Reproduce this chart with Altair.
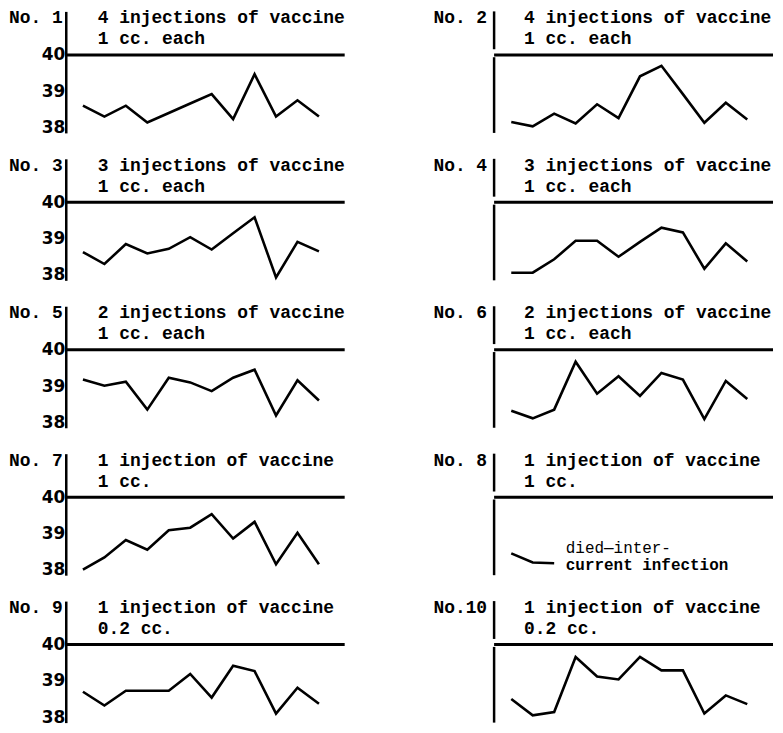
import altair as alt
import pandas as pd

# ---- data ----
case_labels = ["No. 1", "No. 2", "No. 3", "No. 4", "No. 5",
               "No. 6", "No. 7", "No. 8", "No. 9", "No.10"]
line1 = ["4 injections of vaccine", "4 injections of vaccine",
         "3 injections of vaccine", "3 injections of vaccine",
         "2 injections of vaccine", "2 injections of vaccine",
         "1 injection of vaccine", "1 injection of vaccine",
         "1 injection of vaccine", "1 injection of vaccine"]
line2 = ["1 cc. each", "1 cc. each", "1 cc. each", "1 cc. each",
         "1 cc. each", "1 cc. each", "1 cc.", "1 cc.", "0.2 cc.", "0.2 cc."]

t1 = [38.6, 38.3, 38.6, 38.14, 38.4, 38.66, 38.92, 38.23, 39.47, 38.3, 38.75, 38.3]
t2 = [38.15, 38.03, 38.38, 38.11, 38.64, 38.26, 39.41, 39.70, 38.92, 38.13, 38.68, 38.22]
t3 = [38.63, 38.30, 38.85, 38.59, 38.72, 39.04, 38.70, 39.15, 39.59, 37.93, 38.91, 38.65]
t4 = [38.06, 38.06, 38.43, 38.94, 38.94, 38.50, 38.91, 39.30, 39.17, 38.17, 38.87, 38.37]
t5 = [39.18, 39.01, 39.12, 38.35, 39.23, 39.10, 38.86, 39.23, 39.45, 38.19, 39.16, 38.60]
t6 = [38.32, 38.11, 38.35, 39.67, 38.79, 39.27, 38.73, 39.36, 39.18, 38.09, 39.14, 38.64]
t7 = [38.00, 38.34, 38.82, 38.55, 39.09, 39.16, 39.53, 38.86, 39.32, 38.15, 39.02, 38.15]
t8 = [38.45, 38.20, 38.18]
t9 = [38.70, 38.32, 38.73, 38.73, 38.73, 39.19, 38.54, 39.42, 39.27, 38.10, 38.81, 38.37]
t10 = [38.50, 38.05, 38.14, 39.66, 39.12, 39.04, 39.66, 39.29, 39.29, 38.10, 38.60, 38.36]
temps = [t1, t2, t3, t4, t5, t6, t7, t8, t9, t10]

tick_values = [38, 39, 40]
ref_value = [40]
note_lines = ["died\u2014inter-", "current infection"]

# ---- styling ----
W, H = 280, 122
XDOM = [-0.8, 12.2]
YDOM = [37.85, 41.2]
FONT = "Liberation Mono"
FS = 18


def panel(i):
    left = (i % 2 == 0)
    temp = temps[i]
    df = pd.DataFrame({"day": list(range(len(temp))), "temp": temp})
    xenc = alt.X("day:Q", scale=alt.Scale(domain=XDOM, nice=False, zero=False), axis=None)
    if left:
        yaxis = alt.Axis(values=tick_values, ticks=False, grid=False, domain=True,
                         domainColor="black", domainWidth=2.5, labelFont="DejaVu Sans",
                         labelFontSize=17, labelFontWeight=600, labelColor="black",
                         labelPadding=1, labelFlush=False, labelOverlap=False, format="d")
    else:
        yaxis = None
    yscale = alt.Scale(domain=YDOM, nice=False, zero=False)
    line = alt.Chart(df).mark_line(color="black", strokeWidth=2.6).encode(
        x=xenc, y=alt.Y("temp:Q", scale=yscale, axis=yaxis, title=None))

    ref = alt.Chart(pd.DataFrame({"ref": ref_value})).mark_rule(
        color="black", strokeWidth=3).encode(
        y=alt.Y("ref:Q", scale=yscale, axis=yaxis, title=None))

    hdr = pd.DataFrame({"label": [case_labels[i]], "l1": [line1[i]], "l2": [line2[i]]})
    base = alt.Chart(hdr)
    lab = base.mark_text(align="right", baseline="middle", font=FONT, fontSize=FS,
                         fontWeight="bold", color="black").encode(
        x=alt.value(-3 if left else -7), y=alt.value(7), text="label:N")
    tx = 32 if left else 30
    h1 = base.mark_text(align="left", baseline="middle", font=FONT, fontSize=FS,
                        fontWeight="bold", color="black").encode(
        x=alt.value(tx), y=alt.value(7), text="l1:N")
    h2 = base.mark_text(align="left", baseline="middle", font=FONT, fontSize=FS,
                        fontWeight="bold", color="black").encode(
        x=alt.value(tx), y=alt.value(28), text="l2:N")
    layers = [ref, line, lab, h1, h2]
    if not left:
        bar1 = base.mark_rule(color="black", strokeWidth=2.5).encode(
            x=alt.value(0), y=alt.value(0), y2=alt.value(38))
        bar2 = base.mark_rule(color="black", strokeWidth=2.5).encode(
            x=alt.value(0), y=alt.value(46), y2=alt.value(H))
        layers += [bar1, bar2]
    if i == 7:
        nd = pd.DataFrame({"t": note_lines})
        n1 = alt.Chart(nd).transform_filter(alt.datum.t == note_lines[0]).mark_text(
            align="left", baseline="middle", font=FONT, fontSize=16, color="black").encode(
            x=alt.value(72), y=alt.value(95), text="t:N")
        n2 = alt.Chart(nd).transform_filter(alt.datum.t == note_lines[1]).mark_text(
            align="left", baseline="middle", font=FONT, fontSize=16, fontWeight="bold",
            color="black").encode(x=alt.value(72), y=alt.value(112), text="t:N")
        layers += [n1, n2]
    return alt.layer(*layers).properties(width=W, height=H)


panels = [panel(i) for i in range(10)]
chart = alt.concat(*panels, columns=2, spacing={"row": 26, "column": 150},
                   bounds="flush").properties(
    padding=0, background="white").configure_view(stroke=None)

chart.save("out.html", embed_options={"renderer": "svg", "actions": False})
